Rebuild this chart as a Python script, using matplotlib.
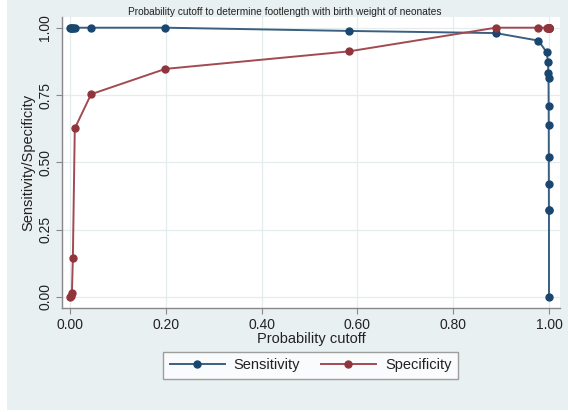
import matplotlib
matplotlib.use("Agg")
import matplotlib.pyplot as plt
from matplotlib.patches import Rectangle

plt.rcParams['font.family'] = ['Liberation Sans', 'DejaVu Sans']

cutoff = [0.000, 0.002, 0.004, 0.006, 0.010, 0.044, 0.199, 0.582, 0.889, 0.978,
          0.995, 0.998, 0.9985, 0.999, 0.9993, 0.9995, 0.9996, 0.9997, 0.9998, 0.9999, 1.000]
sensitivity = [1.000, 1.000, 1.000, 1.000, 1.000, 1.000, 1.000, 0.988, 0.980, 0.952,
               0.909, 0.873, 0.833, 0.814, 0.708, 0.638, 0.521, 0.421, 0.324, 0.324, 0.000]
specificity = [0.000, 0.005, 0.015, 0.146, 0.626, 0.753, 0.847, 0.912, 1.000, 1.000,
               1.000, 1.000, 1.000, 1.000, 1.000, 1.000, 1.000, 1.000, 1.000, 1.000, 1.000]
xticks = [0.0, 0.2, 0.4, 0.6, 0.8, 1.0]
xticklabels = ["0.00", "0.20", "0.40", "0.60", "0.80", "1.00"]
yticks = [0.0, 0.25, 0.5, 0.75, 1.0]
yticklabels = ["0.00", "0.25", "0.50", "0.75", "1.00"]

W, H = 568, 412
fig = plt.figure(figsize=(W / 100, H / 100), dpi=100)
bg = '#e9f0f2'
fig.patch.set_facecolor(bg)
fig.add_artist(Rectangle((0, 0), 7 / W, 1, transform=fig.transFigure, facecolor='white', edgecolor='none', zorder=0))
fig.add_artist(Rectangle((0, 0), 1, 2 / H, transform=fig.transFigure, facecolor='white', edgecolor='none', zorder=0))

ax = fig.add_axes([62 / W, (H - 308) / H, (560 - 62) / W, (308 - 17) / H])
ax.set_facecolor('white')

navy = '#1a476f'
maroon = '#90353b'
navy_line = '#3a5f80'
maroon_line = '#a24a51'
ax.plot(cutoff, sensitivity, color=navy_line, lw=1.4, marker='o', ms=5.0, mfc=navy, mec=navy,
        label='Sensitivity', zorder=3)
ax.plot(cutoff, specificity, color=maroon_line, lw=1.4, marker='o', ms=5.0, mfc=maroon, mec=maroon,
        label='Specificity', zorder=3)

ax.set_xlim(-8 / 479, 1 + 11 / 479)
ax.set_ylim(-11 / 269.3, 1 + 10.7 / 269.3)
ax.set_xticks(xticks)
ax.set_xticklabels(xticklabels)
ax.set_yticks(yticks)
ax.set_yticklabels(yticklabels, rotation=90, va='center')
ax.grid(True, color='#e4ecee', lw=0.9, zorder=0)
ax.set_axisbelow(True)
for s in ['top', 'right']:
    ax.spines[s].set_visible(False)
for s in ['left', 'bottom']:
    ax.spines[s].set_color('#888888')
    ax.spines[s].set_linewidth(1.0)
ax.tick_params(axis='both', length=4, width=0.8, color='#888888', labelsize=10, labelcolor='#222222', pad=3)

ax.set_xlabel('Probability cutoff', fontsize=10.5, color='#222222', labelpad=0)
ax.set_ylabel('Sensitivity/Specificity', fontsize=10.5, color='#222222', labelpad=2)
fig.text(0.5 * (114 + 455) / W, 1 - 12 / H,
         'Probability cutoff to determine footlength with birth weight of neonates',
         ha='center', va='center', fontsize=7.3, color='#222222')

leg = fig.legend(loc='center', bbox_to_anchor=(310.5 / W, 1 - 365.5 / H), ncol=2,
                 fontsize=10.5, frameon=True, fancybox=False, edgecolor='#888888',
                 handlelength=3.8, handletextpad=0.6, columnspacing=1.4, borderpad=0.45,
                 borderaxespad=0)
leg.get_frame().set_linewidth(1.0)
for t in leg.get_texts():
    t.set_color('#222222')

fig.savefig('out.png', dpi=100, facecolor=fig.get_facecolor())
